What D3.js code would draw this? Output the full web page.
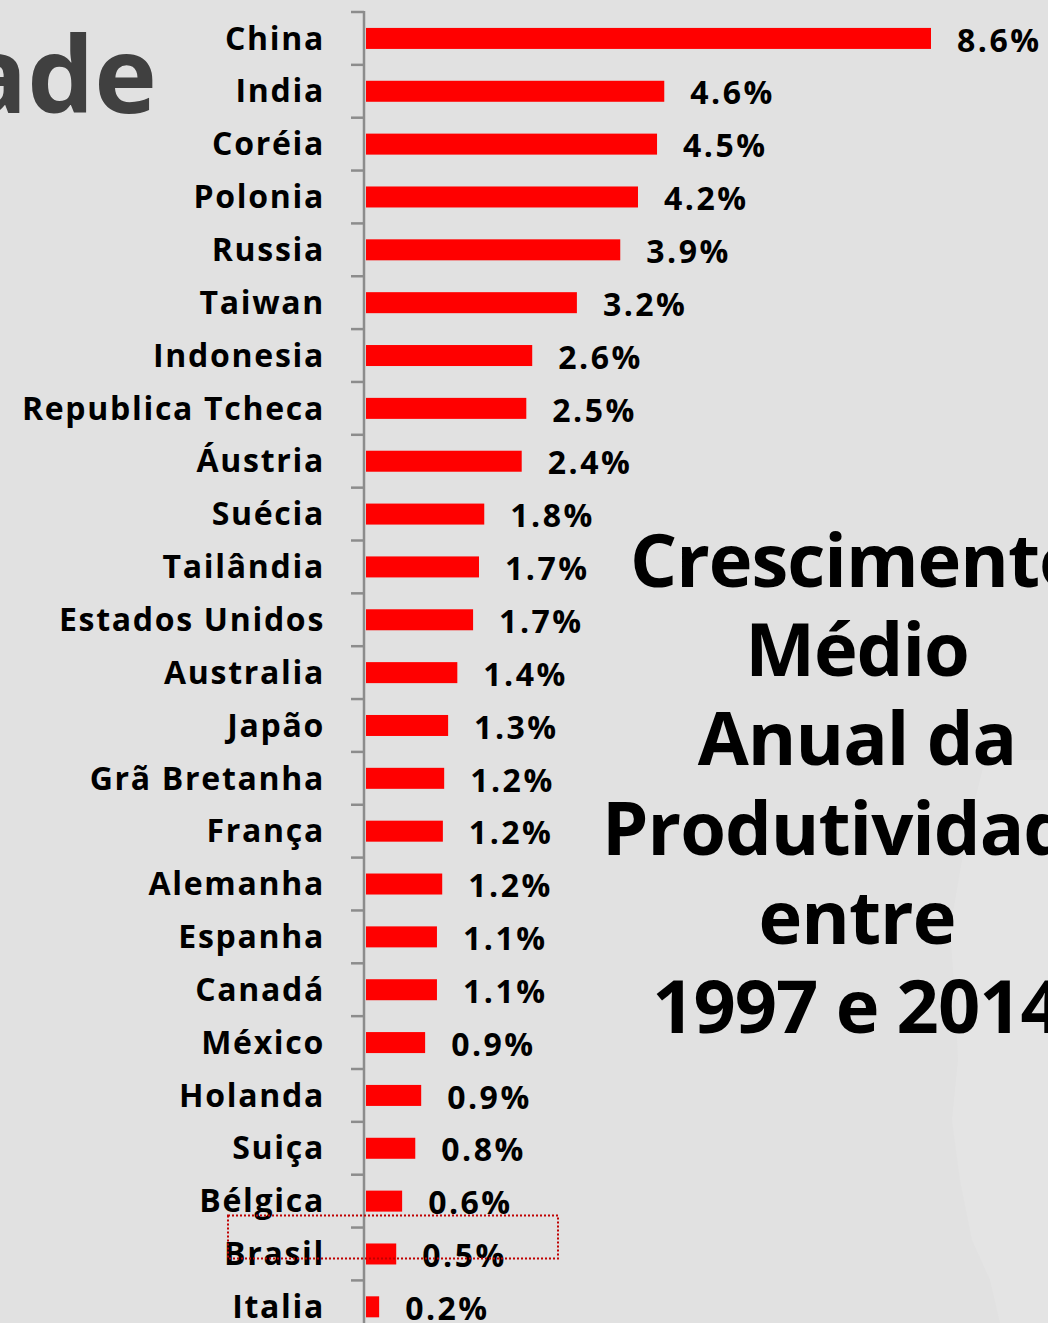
<!DOCTYPE html>
<html>
<head>
<meta charset="utf-8">
<script src="https://cdn.jsdelivr.net/npm/d3@7"></script>
<style>
  body { margin: 0; background: #e1e1e1; }
  svg { display: block; }
</style>
</head>
<body>
<div id="chart"></div>
<script>
// 국가 (categories)
var paises = ["China", "India", "Coréia", "Polonia", "Russia", "Taiwan", "Indonesia",
  "Republica Tcheca", "Áustria", "Suécia", "Tailândia", "Estados Unidos", "Australia",
  "Japão", "Grã Bretanha", "França", "Alemanha", "Espanha", "Canadá", "México",
  "Holanda", "Suiça", "Bélgica", "Brasil", "Italia"];

// 막대 길이 (그림에서 읽은 값, %)
var crescimento = [8.6, 4.54, 4.43, 4.14, 3.87, 3.21, 2.53, 2.44, 2.37, 1.8, 1.72, 1.63, 1.39,
  1.25, 1.19, 1.17, 1.16, 1.08, 1.08, 0.9, 0.84, 0.75, 0.55, 0.46, 0.2];

// 표시 라벨
var rotulos = ["8.6%", "4.6%", "4.5%", "4.2%", "3.9%", "3.2%", "2.6%", "2.5%", "2.4%", "1.8%",
  "1.7%", "1.7%", "1.4%", "1.3%", "1.2%", "1.2%", "1.2%", "1.1%", "1.1%", "0.9%", "0.9%",
  "0.8%", "0.6%", "0.5%", "0.2%"];

var tituloLinhas = ["Crescimento", "Médio", "Anual da", "Produtividade", "entre", "1997 e 2014"];

var W = 1048, H = 1323;
var fonte = "'Open Sans', 'DejaVu Sans', sans-serif";

var svg = d3.select("#chart").append("svg")
  .attr("width", W)
  .attr("height", H);

// 배경
svg.append("rect").attr("width", W).attr("height", H).attr("fill", "#e1e1e1");
svg.append("path")
  .attr("d", "M985,760 L975,800 L962,860 L950,930 L955,1000 L958,1060 L952,1120 L960,1180 L972,1240 L990,1280 L1000,1323 L1048,1323 L1048,760 Z")
  .attr("fill", "#e4e4e4");

// 잘린 제목 조각
svg.append("text")
  .attr("x", 157)
  .attr("y", 113)
  .attr("text-anchor", "end")
  .attr("font-family", fonte)
  .attr("font-weight", "bold")
  .attr("font-size", 106)
  .attr("fill", "#404040")
  .text("Produtividade");

// 축
var x = d3.scaleLinear().domain([0, 8.6]).range([366, 931]);
var yb = d3.scaleBand().domain(paises).range([12, 12 + 52.85 * paises.length]);

// 막대
svg.append("g").selectAll("rect")
  .data(paises)
  .enter().append("rect")
    .attr("x", x(0))
    .attr("y", function(d) { return yb(d) + yb.bandwidth() / 2 - 10.5; })
    .attr("width", function(d, i) { return x(crescimento[i]) - x(0); })
    .attr("height", 21)
    .attr("fill", "#ff0000");

// 축선 + 눈금
var eixo = svg.append("g").attr("stroke", "#8c8c8c").attr("stroke-width", 2.5);
eixo.append("line").attr("x1", 364).attr("x2", 364).attr("y1", yb.range()[0] - 1).attr("y2", H);
eixo.selectAll("line.tick")
  .data(paises)
  .enter().append("line")
    .attr("class", "tick")
    .attr("x1", 351).attr("x2", 364)
    .attr("y1", function(d) { return yb(d); })
    .attr("y2", function(d) { return yb(d); });

// 국가명
svg.append("g")
  .attr("font-family", fonte)
  .attr("font-weight", "bold")
  .attr("font-size", 32)
  .attr("letter-spacing", 1.7)
  .attr("text-anchor", "end")
  .selectAll("text")
  .data(paises)
  .enter().append("text")
    .attr("x", 325)
    .attr("y", function(d) { return yb(d) + yb.bandwidth() / 2; })
    .attr("dy", "0.35em")
    .attr("fill", "#000")
    .text(function(d) { return d; });

// 값 라벨
svg.append("g")
  .attr("font-family", fonte)
  .attr("font-weight", "bold")
  .attr("font-size", 32)
  .attr("letter-spacing", 2.5)
  .selectAll("text")
  .data(paises)
  .enter().append("text")
    .attr("x", function(d, i) { return x(crescimento[i]) + 26; })
    .attr("y", function(d) { return yb(d) + yb.bandwidth() / 2 + 2; })
    .attr("dy", "0.35em")
    .attr("fill", "#000")
    .text(function(d, i) { return rotulos[i]; });

// 브라질 강조 박스
svg.append("rect")
  .attr("x", 228)
  .attr("y", yb("Brasil") - 12)
  .attr("width", 330)
  .attr("height", 43)
  .attr("fill", "none")
  .attr("stroke", "#c00000")
  .attr("stroke-width", 2)
  .attr("stroke-dasharray", "2,2");

// 제목
svg.append("g")
  .attr("font-family", fonte)
  .attr("font-weight", "bold")
  .attr("font-size", 74)
  .attr("letter-spacing", -1)
  .attr("text-anchor", "middle")
  .selectAll("text")
  .data(tituloLinhas)
  .enter().append("text")
    .attr("x", 857)
    .attr("y", function(d, i) { return 587 + i * 89.2; })
    .attr("fill", "#000")
    .text(function(d) { return d; });
</script>
</body>
</html>
